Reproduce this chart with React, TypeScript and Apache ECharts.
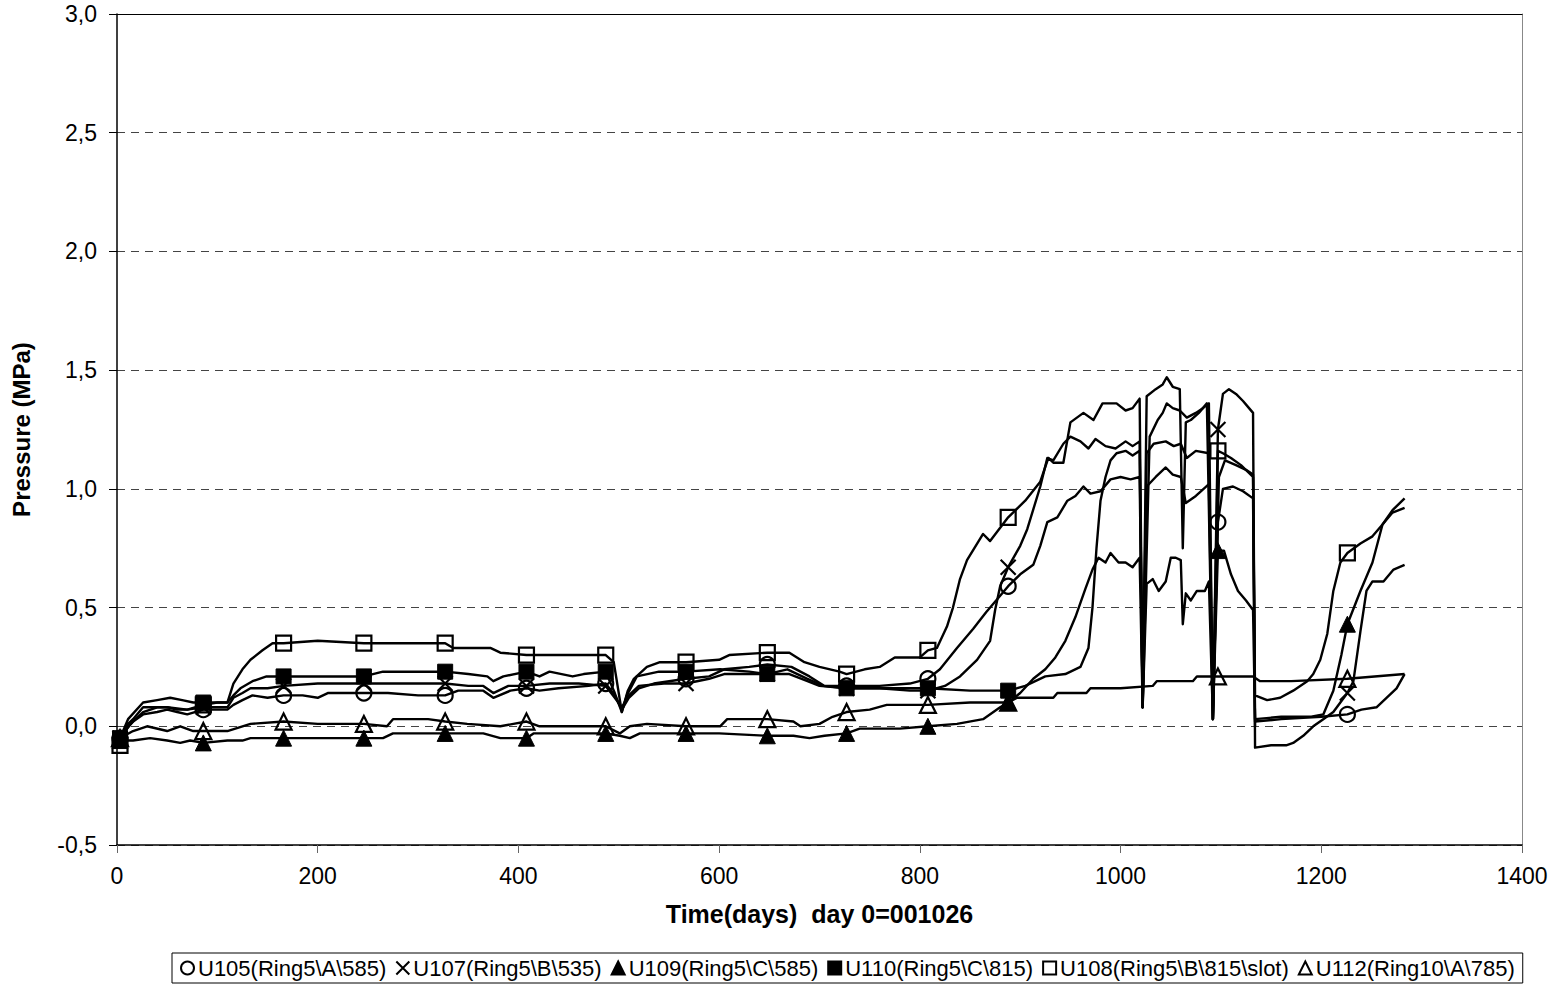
import React, { useEffect, useRef } from "react";
import * as echarts from "echarts";

const FONT = '"Liberation Sans", Arial, Helvetica, sans-serif';

// x-axis ticks (days) and y-axis range (MPa)
const xTicks = [0, 200, 400, 600, 800, 1000, 1200, 1400];
const yMin = -0.5;
const yMax = 3.0;
const yStep = 0.5;

// days at which the markers are drawn
const markerDays = [3, 86, 166, 246, 327, 408, 487, 567, 648, 727, 808, 888, 1097, 1226];
const markerDaysU110 = [3, 86, 166, 246, 327, 408, 487, 567, 648, 727, 808, 888];

// U105(Ring5\A\585)  [day, MPa]
const u105: [number, number][] = [
  [3, -0.05], [10, -0.01], [16, 0.02], [26, 0.05], [40, 0.06], [50, 0.07], [60, 0.06], [70, 0.05], [86, 0.07],
  [100, 0.07], [110, 0.07], [116, 0.09], [125, 0.11], [135, 0.13], [150, 0.12], [166, 0.13], [185, 0.13],
  [200, 0.12], [210, 0.14], [230, 0.14], [246, 0.14], [270, 0.14], [300, 0.13], [327, 0.13], [340, 0.15],
  [365, 0.15], [375, 0.12], [392, 0.15], [408, 0.16], [421, 0.15], [440, 0.16], [470, 0.17], [487, 0.18],
  [496, 0.13], [503, 0.07], [510, 0.12], [520, 0.16], [535, 0.18], [567, 0.2], [590, 0.21], [605, 0.24],
  [630, 0.25], [648, 0.26], [672, 0.25], [690, 0.21], [705, 0.17], [727, 0.17], [760, 0.17], [790, 0.18],
  [808, 0.2], [820, 0.24], [837, 0.33], [853, 0.41], [866, 0.48], [876, 0.53], [888, 0.59], [900, 0.64],
  [913, 0.68], [920, 0.76], [927, 0.86], [937, 0.88], [947, 0.95], [955, 0.97], [963, 1.01], [970, 0.98],
  [980, 0.99], [990, 1.04], [1000, 1.05], [1010, 1.04], [1019, 1.05], [1022, 0.08], [1026, 1.01],
  [1035, 1.05], [1045, 1.09], [1052, 1.06], [1060, 1.05], [1065, 0.94], [1075, 0.97], [1088, 1.02],
  [1092, 0.03], [1097, 0.86], [1102, 1.0], [1112, 1.01], [1122, 0.99], [1132, 0.96], [1134, 0.02],
  [1160, 0.03], [1200, 0.04], [1226, 0.05], [1240, 0.07], [1255, 0.08], [1265, 0.12], [1275, 0.16], [1283, 0.22],
];

// U107(Ring5\B\535)
const u107: [number, number][] = [
  [3, -0.05], [11, 0.01], [16, 0.03], [26, 0.08], [40, 0.08], [50, 0.08], [60, 0.07], [70, 0.07], [86, 0.08],
  [100, 0.08], [110, 0.08], [116, 0.12], [125, 0.14], [133, 0.16], [150, 0.16], [166, 0.17], [200, 0.18],
  [246, 0.18], [280, 0.18], [327, 0.18], [350, 0.17], [365, 0.17], [375, 0.14], [390, 0.17], [408, 0.17],
  [431, 0.18], [460, 0.18], [487, 0.17], [496, 0.12], [503, 0.08], [510, 0.13], [520, 0.17], [545, 0.18],
  [567, 0.18], [590, 0.2], [605, 0.22], [648, 0.22], [670, 0.22], [688, 0.19], [700, 0.17], [727, 0.16],
  [760, 0.16], [790, 0.15], [808, 0.15], [825, 0.17], [840, 0.21], [857, 0.28], [870, 0.36], [875, 0.49],
  [880, 0.59], [888, 0.67], [900, 0.76], [907, 0.83], [920, 1.01], [927, 1.13], [933, 1.12], [943, 1.19],
  [950, 1.22], [960, 1.2], [968, 1.17], [975, 1.21], [985, 1.18], [995, 1.17], [1005, 1.2], [1012, 1.18],
  [1019, 1.2], [1022, 0.08], [1026, 1.15], [1033, 1.19], [1045, 1.2], [1053, 1.18], [1060, 1.19],
  [1066, 1.13], [1075, 1.16], [1088, 1.15], [1092, 0.03], [1097, 1.25], [1102, 1.4], [1108, 1.42],
  [1115, 1.4], [1122, 1.37], [1128, 1.34], [1132, 1.32], [1134, -0.09], [1150, -0.08], [1165, -0.08],
  [1172, -0.07], [1182, -0.04], [1192, 0.0], [1202, 0.03], [1212, 0.06], [1219, 0.1], [1226, 0.14],
  [1232, 0.19], [1239, 0.4], [1245, 0.57], [1251, 0.61], [1262, 0.61], [1272, 0.66], [1283, 0.68],
];

// U109(Ring5\C\585)
const u109: [number, number][] = [
  [3, -0.06], [16, -0.06], [33, -0.05], [50, -0.06], [63, -0.07], [73, -0.06], [86, -0.07], [110, -0.06],
  [125, -0.06], [133, -0.05], [166, -0.05], [200, -0.05], [246, -0.05], [265, -0.05], [275, -0.03],
  [300, -0.03], [327, -0.03], [365, -0.03], [382, -0.05], [408, -0.05], [415, -0.03], [450, -0.03],
  [487, -0.03], [501, -0.04], [511, -0.05], [521, -0.03], [567, -0.03], [600, -0.03], [648, -0.04],
  [674, -0.04], [690, -0.05], [705, -0.04], [727, -0.03], [740, -0.01], [780, -0.01], [808, 0.0],
  [837, 0.01], [863, 0.03], [880, 0.08], [888, 0.1], [900, 0.14], [913, 0.2], [925, 0.24], [935, 0.29],
  [945, 0.36], [955, 0.46], [965, 0.58], [972, 0.66], [978, 0.71], [985, 0.69], [990, 0.73], [998, 0.69],
  [1005, 0.69], [1012, 0.67], [1019, 0.71], [1022, 0.08], [1026, 0.6], [1032, 0.62], [1038, 0.57],
  [1045, 0.61], [1050, 0.71], [1055, 0.71], [1060, 0.7], [1062, 0.43], [1065, 0.56], [1070, 0.53],
  [1076, 0.57], [1084, 0.57], [1088, 0.61], [1092, 0.03], [1097, 0.74], [1103, 0.74], [1110, 0.64],
  [1117, 0.57], [1125, 0.53], [1132, 0.49], [1134, 0.03], [1160, 0.04], [1190, 0.04], [1202, 0.05],
  [1212, 0.15], [1220, 0.3], [1226, 0.43], [1239, 0.57], [1251, 0.69], [1261, 0.85], [1271, 0.9], [1283, 0.92],
];

// U110(Ring5\C\815)
const u110: [number, number][] = [
  [3, -0.05], [11, 0.03], [26, 0.1], [40, 0.11], [53, 0.12], [65, 0.11], [76, 0.1], [86, 0.1], [100, 0.1],
  [110, 0.1], [116, 0.13], [123, 0.16], [135, 0.19], [149, 0.21], [166, 0.21], [200, 0.21], [246, 0.21],
  [265, 0.23], [300, 0.23], [327, 0.23], [350, 0.22], [369, 0.21], [375, 0.19], [385, 0.21], [408, 0.23],
  [421, 0.21], [431, 0.23], [454, 0.21], [465, 0.22], [487, 0.23], [496, 0.14], [503, 0.06], [508, 0.13],
  [518, 0.21], [540, 0.23], [567, 0.23], [601, 0.24], [630, 0.23], [648, 0.22], [668, 0.24], [688, 0.2],
  [704, 0.17], [727, 0.16], [760, 0.16], [808, 0.16], [850, 0.15], [888, 0.15], [905, 0.17], [925, 0.21],
  [945, 0.22], [960, 0.25], [968, 0.33], [972, 0.5], [976, 0.75], [980, 0.95], [985, 1.05], [990, 1.12],
  [996, 1.15], [1005, 1.16], [1012, 1.14], [1019, 1.16], [1022, 0.08], [1029, 1.22], [1037, 1.29],
  [1042, 1.32], [1046, 1.36], [1052, 1.34], [1059, 1.33], [1066, 1.3], [1075, 1.32], [1082, 1.34],
  [1088, 1.36], [1092, 0.03], [1098, 1.05], [1104, 1.12], [1115, 1.1], [1125, 1.08], [1132, 1.06], [1134, 0.0],
];

// U108(Ring5\B\815\slot)
const u108: [number, number][] = [
  [3, -0.08], [11, 0.0], [26, 0.06], [40, 0.08], [50, 0.08], [70, 0.07], [86, 0.09], [100, 0.1], [110, 0.1],
  [116, 0.18], [125, 0.24], [133, 0.28], [145, 0.32], [155, 0.35], [166, 0.35], [200, 0.36], [246, 0.35],
  [300, 0.35], [327, 0.35], [335, 0.33], [372, 0.33], [382, 0.31], [408, 0.3], [450, 0.3], [487, 0.3],
  [495, 0.27], [503, 0.06], [509, 0.15], [515, 0.2], [528, 0.25], [541, 0.27], [567, 0.27], [600, 0.28],
  [610, 0.3], [648, 0.31], [670, 0.31], [685, 0.27], [700, 0.25], [720, 0.23], [727, 0.22], [745, 0.24],
  [760, 0.25], [775, 0.29], [800, 0.29], [808, 0.32], [817, 0.33], [827, 0.42], [833, 0.5], [840, 0.62],
  [847, 0.7], [863, 0.81], [870, 0.78], [888, 0.88], [905, 0.95], [920, 1.03], [928, 1.13], [933, 1.11],
  [943, 1.11], [950, 1.28], [963, 1.32], [973, 1.29], [982, 1.36], [996, 1.36], [1005, 1.33], [1012, 1.34],
  [1019, 1.38], [1022, 0.08], [1026, 1.39], [1035, 1.42], [1042, 1.44], [1046, 1.47], [1052, 1.43],
  [1059, 1.42], [1062, 0.75], [1065, 1.28], [1070, 1.29], [1078, 1.32], [1086, 1.36], [1092, 0.03],
  [1097, 1.16], [1102, 1.15], [1110, 1.13], [1120, 1.1], [1132, 1.05], [1134, 0.13], [1146, 0.11],
  [1159, 0.12], [1172, 0.15], [1186, 0.19], [1192, 0.22], [1199, 0.28], [1206, 0.39], [1212, 0.57],
  [1219, 0.69], [1226, 0.73], [1239, 0.77], [1251, 0.8], [1261, 0.85], [1271, 0.91], [1283, 0.96],
];

// U112(Ring10\A\785)
const u112: [number, number][] = [
  [3, -0.05], [16, -0.02], [30, 0.0], [50, -0.02], [63, 0.0], [76, -0.02], [86, -0.02], [110, -0.02],
  [133, 0.01], [166, 0.02], [200, 0.01], [246, 0.01], [269, 0.0], [275, 0.03], [310, 0.03], [327, 0.02],
  [349, 0.01], [382, 0.0], [395, 0.01], [408, 0.02], [421, 0.0], [487, 0.0], [501, -0.03], [511, 0.0],
  [528, 0.01], [567, 0.0], [601, 0.0], [608, 0.03], [648, 0.03], [674, 0.02], [681, 0.0], [700, 0.01],
  [713, 0.04], [727, 0.06], [750, 0.07], [767, 0.09], [808, 0.09], [850, 0.1], [888, 0.1], [897, 0.12],
  [933, 0.12], [937, 0.14], [966, 0.14], [970, 0.16], [1000, 0.16], [1032, 0.17], [1036, 0.19],
  [1072, 0.19], [1076, 0.21], [1097, 0.21], [1132, 0.21], [1139, 0.19], [1170, 0.19], [1226, 0.2], [1283, 0.22],
];

const crossPath = "path://M0,0L10,10M10,0L0,10";

type Def = {
  name: string;
  data: [number, number][];
  markers: number[];
  symbol: string;
  kind: "filled" | "hollow" | "cross";
  size: number;
};

const defs: Def[] = [
  { name: "U105(Ring5\\A\\585)", data: u105, markers: markerDays, symbol: "circle", kind: "hollow", size: 15 },
  { name: "U107(Ring5\\B\\535)", data: u107, markers: markerDays, symbol: crossPath, kind: "cross", size: 15 },
  { name: "U109(Ring5\\C\\585)", data: u109, markers: markerDays, symbol: "triangle", kind: "filled", size: 16 },
  { name: "U110(Ring5\\C\\815)", data: u110, markers: markerDaysU110, symbol: "rect", kind: "filled", size: 15 },
  { name: "U108(Ring5\\B\\815\\slot)", data: u108, markers: markerDays, symbol: "rect", kind: "hollow", size: 15 },
  { name: "U112(Ring10\\A\\785)", data: u112, markers: markerDays, symbol: "triangle", kind: "hollow", size: 16 },
];

function styleFor(kind: Def["kind"]) {
  if (kind === "filled") return { color: "#000", borderColor: "#000", borderWidth: 1, opacity: 1 };
  if (kind === "cross") return { color: "rgba(0,0,0,0)", borderColor: "#000", borderWidth: 2.2, opacity: 1 };
  return { color: "rgba(255,255,255,0)", borderColor: "#000", borderWidth: 2.2, opacity: 1 };
}

export default function App() {
  const ref = useRef<HTMLDivElement>(null);

  useEffect(() => {
    if (!ref.current) return;
    const chart = echarts.init(ref.current, undefined, { renderer: "svg" });

    const lineSeries = defs.map((d) => ({
      type: "line",
      name: "line-" + d.name,
      data: d.data,
      symbol: "none",
      showSymbol: false,
      lineStyle: { color: "#000", width: 2.4, opacity: 1, join: "round" },
      itemStyle: { color: "#000" },
      z: 2,
      silent: true,
    }));

    const markerSeries = defs.map((d) => ({
      type: "scatter",
      name: d.name,
      data: d.data.filter((p) => d.markers.indexOf(p[0]) >= 0),
      symbol: d.symbol,
      symbolSize: d.size,
      itemStyle: styleFor(d.kind),
      z: 3,
      silent: true,
    }));

    chart.setOption({
      animation: false,
      backgroundColor: "#fff",
      textStyle: { fontFamily: FONT, color: "#000" },
      grid: { left: 117, right: 35, top: 14, bottom: 146, containLabel: false },
      legend: {
        data: defs.map((d) => d.name),
        left: 172,
        top: 953,
        padding: [4, 8, 4, 8],
        borderColor: "#000",
        borderWidth: 1,
        itemGap: 9,
        itemWidth: 13,
        itemHeight: 13,
        textStyle: { fontFamily: FONT, fontSize: 22, color: "#000", padding: [0, 0, 0, -1] },
        selectedMode: false,
      },
      xAxis: [
        {
          type: "value",
          min: xTicks[0],
          max: xTicks[xTicks.length - 1],
          interval: xTicks[1] - xTicks[0],
          name: "Time(days)  day 0=001026",
          nameLocation: "middle",
          nameGap: 56,
          nameTextStyle: { fontFamily: FONT, fontSize: 25, fontWeight: "bold", color: "#000" },
          axisLine: { show: true, onZero: false, lineStyle: { color: "#000", width: 1.5 } },
          axisTick: { show: true, inside: false, length: 8, lineStyle: { color: "#666" } },
          axisLabel: {
            fontFamily: FONT,
            fontSize: 23,
            color: "#000",
            margin: 19,
            formatter: (v: number) => String(v),
          },
          splitLine: { show: false },
        },
        {
          type: "value",
          position: "top",
          min: xTicks[0],
          max: xTicks[xTicks.length - 1],
          interval: xTicks[1] - xTicks[0],
          axisLine: { show: true, onZero: false, lineStyle: { color: "#000", width: 1.2 } },
          axisTick: { show: false },
          axisLabel: { show: false },
          splitLine: { show: false },
        },
      ],
      yAxis: [
        {
          type: "value",
          min: yMin,
          max: yMax,
          interval: yStep,
          name: "Pressure (MPa)",
          nameLocation: "middle",
          nameGap: 84,
          nameTextStyle: { fontFamily: FONT, fontSize: 24, fontWeight: "bold", color: "#000" },
          axisLine: { show: true, onZero: false, lineStyle: { color: "#000", width: 1.5 } },
          axisTick: { show: true, inside: false, length: 8, lineStyle: { color: "#000" } },
          axisLabel: {
            fontFamily: FONT,
            fontSize: 23,
            color: "#000",
            margin: 20,
            formatter: (v: number) => v.toFixed(1).replace(".", ","),
          },
          splitLine: { show: true, lineStyle: { color: "#444", width: 1, type: [8, 6] } },
        },
        {
          type: "value",
          position: "right",
          min: yMin,
          max: yMax,
          interval: yStep,
          axisLine: { show: true, onZero: false, lineStyle: { color: "#888", width: 1 } },
          axisTick: { show: false },
          axisLabel: { show: false },
          splitLine: { show: false },
        },
      ],
      series: [...lineSeries, ...markerSeries],
    });

    return () => chart.dispose();
  }, []);

  return (
    <div
      ref={ref}
      style={{ position: "fixed", left: 0, top: 0, width: 1557, height: 991, background: "#fff" }}
    />
  );
}
